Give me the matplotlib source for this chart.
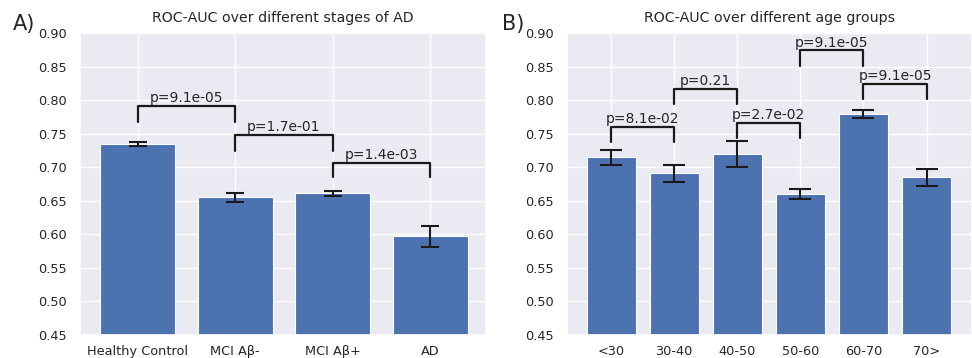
import matplotlib
matplotlib.use("Agg")
import matplotlib.pyplot as plt
import seaborn as sns

sns.set_theme(style="darkgrid")
plt.rcParams['font.family'] = ['DejaVu Sans']

# panel A: stages of AD
stages = ["Healthy Control", "MCI A\u03b2-", "MCI A\u03b2+", "AD"]
stage_auc = [0.735, 0.655, 0.661, 0.597]
stage_err = [0.003, 0.0065, 0.0035, 0.016]
# (left bar, right bar, leg bottom, bracket top, label)
stage_pairs = [(0, 1, 0.768, 0.791, "p=9.1e-05"),
               (1, 2, 0.724, 0.748, "p=1.7e-01"),
               (2, 3, 0.685, 0.707, "p=1.4e-03")]

# panel B: age groups
ages = ["<30", "30-40", "40-50", "50-60", "60-70", "70>"]
age_auc = [0.715, 0.691, 0.720, 0.660, 0.779, 0.685]
age_err = [0.011, 0.013, 0.0195, 0.008, 0.006, 0.0125]
age_pairs = [(0, 1, 0.737, 0.760, "p=8.1e-02"),
             (1, 2, 0.794, 0.817, "p=0.21"),
             (2, 3, 0.744, 0.766, "p=2.7e-02"),
             (3, 4, 0.851, 0.874, "p=9.1e-05"),
             (4, 5, 0.801, 0.824, "p=9.1e-05")]

BLUE = "#4C72B0"
TXT = "#262626"


def draw_panel(ax, labels, vals, errs, pairs, title, width, xlim, cap):
    x = range(len(labels))
    ax.bar(x, vals, width=width, color=BLUE, edgecolor="white", linewidth=0.8,
           yerr=errs, capsize=cap, error_kw=dict(ecolor="#1a1a1a", elinewidth=1.5, capthick=1.5))
    for a, b, lo, hi, txt in pairs:
        ax.plot([a, a, b, b], [lo, hi, hi, lo], color="#1a1a1a", lw=1.6)
        ax.text((a + b) / 2, hi + 0.001, txt, ha="center", va="bottom", fontsize=10, color=TXT)
    ax.set_xticks(list(x))
    ax.set_xticklabels(labels, fontsize=9.3, color=TXT)
    ax.tick_params(axis="x", pad=1)
    ax.set_ylim(0.45, 0.90)
    ax.set_yticks([0.45, 0.50, 0.55, 0.60, 0.65, 0.70, 0.75, 0.80, 0.85, 0.90])
    ax.set_yticklabels(["%.2f" % v for v in ax.get_yticks()], fontsize=9.3, color=TXT)
    ax.set_xlim(*xlim)
    ax.set_title(title, fontsize=10.2, color=TXT, pad=8)


fig = plt.figure(figsize=(9.72, 3.58), dpi=100)
ax1 = fig.add_axes([0.0823, 0.0642, 0.4177, 0.8436])
ax2 = fig.add_axes([0.5833, 0.0642, 0.4167, 0.8436])

draw_panel(ax1, stages, stage_auc, stage_err, stage_pairs,
           "ROC-AUC over different stages of AD", 0.77, (-0.59, 3.57), 6.8)
draw_panel(ax2, ages, age_auc, age_err, age_pairs,
           "ROC-AUC over different age groups", 0.78, (-0.70, 5.72), 8.2)

fig.text(0.013, 0.915, "A)", fontsize=15, color=TXT)
fig.text(0.516, 0.915, "B)", fontsize=15, color=TXT)

fig.savefig("out.png", dpi=100)
